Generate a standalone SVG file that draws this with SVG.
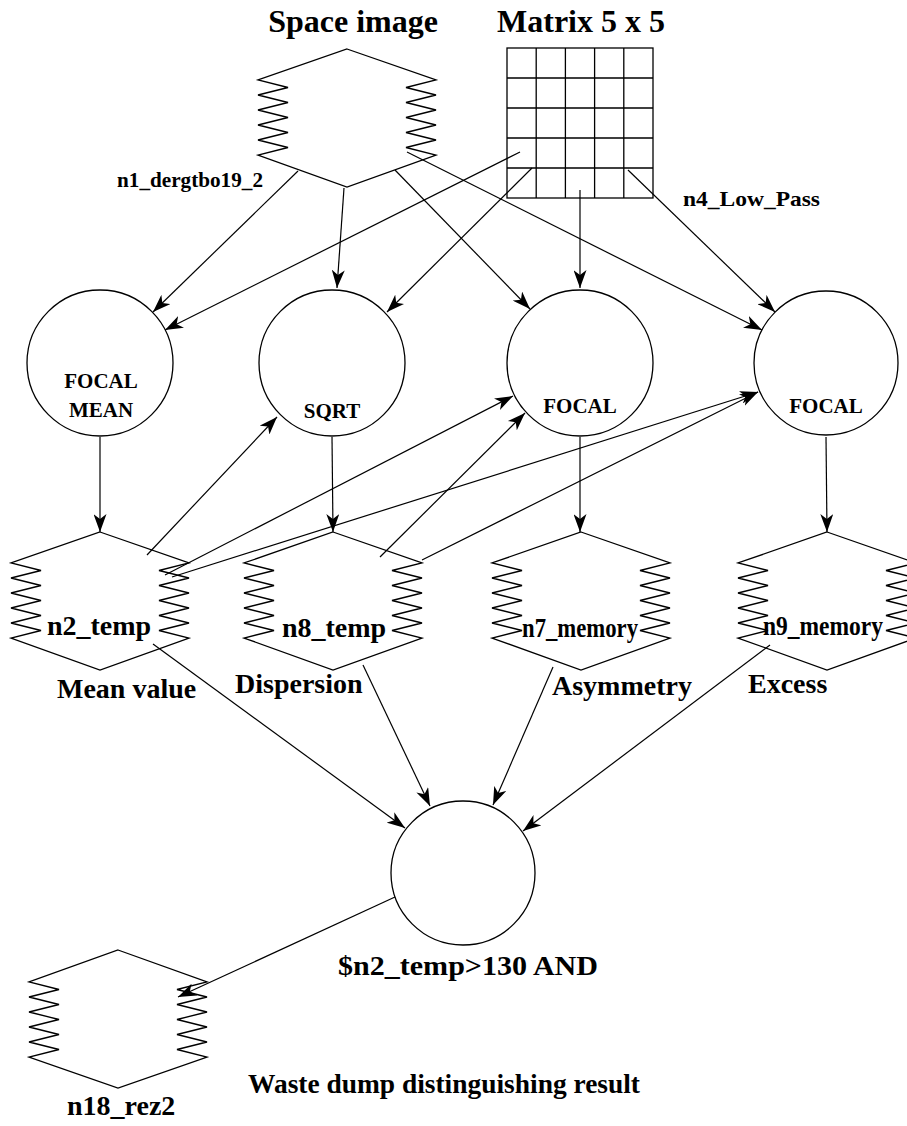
<svg xmlns="http://www.w3.org/2000/svg" width="907" height="1126" viewBox="0 0 907 1126">
<style>
.sh{fill:none;stroke:#000;stroke-width:1.3;stroke-linejoin:miter}
.ln{fill:none;stroke:#000;stroke-width:1.2;marker-end:url(#arr)}
.t{font-family:"Liberation Serif","Times New Roman",serif;font-weight:bold;fill:#000}
.big{font-size:32px}
.lb{font-size:28px}
.sm{font-size:21px}
</style>
<defs>
<marker id="arr" viewBox="0 0 18 13" refX="18" refY="6.5" markerWidth="18" markerHeight="13" markerUnits="userSpaceOnUse" orient="auto">
<path d="M0,0 L18,6.5 L0,13 L5,6.5 Z" fill="#000"/>
</marker>
</defs>
<rect width="907" height="1126" fill="#fff"/>
<g id="connectors">
<line class="ln" x1="298" y1="171" x2="153" y2="312"/>
<line class="ln" x1="520" y1="152" x2="165" y2="330"/>
<line class="ln" x1="344" y1="188" x2="337" y2="288"/>
<line class="ln" x1="532" y1="168" x2="387" y2="312"/>
<line class="ln" x1="395" y1="170" x2="530" y2="309"/>
<line class="ln" x1="580" y1="190" x2="580" y2="288"/>
<line class="ln" x1="407" y1="152" x2="762" y2="330"/>
<line class="ln" x1="628" y1="170" x2="775" y2="312"/>
<line class="ln" x1="100" y1="437" x2="100" y2="532"/>
<line class="ln" x1="332" y1="437" x2="333" y2="532"/>
<line class="ln" x1="580" y1="437" x2="580" y2="532"/>
<line class="ln" x1="826" y1="437" x2="827" y2="532"/>
<line class="ln" x1="147" y1="555" x2="277" y2="417"/>
<line class="ln" x1="165" y1="575" x2="513" y2="396"/>
<line class="ln" x1="172" y1="577" x2="758" y2="392"/>
<line class="ln" x1="380" y1="557" x2="525" y2="413"/>
<line class="ln" x1="422" y1="560" x2="758" y2="392"/>
<line class="ln" x1="153" y1="644" x2="405" y2="828"/>
<line class="ln" x1="363" y1="665" x2="430" y2="806"/>
<line class="ln" x1="553" y1="667" x2="493" y2="805"/>
<line class="ln" x1="770" y1="645" x2="523" y2="831"/>
<line class="ln" x1="395" y1="897" x2="178" y2="997"/>
</g>
<g id="space_image">
<path class="sh" d="M347,49 L436,80 l-30,7.5 30,7.5 -30,7.5 30,7.5 -30,7.5 30,7.5 -30,7.5 30,7.5 -30,7.5 30,7.5 L347,187 L258,155 l30,-7.5 -30,-7.5 30,-7.5 -30,-7.5 30,-7.5 -30,-7.5 30,-7.5 -30,-7.5 30,-7.5 -30,-7.5 Z"/>
<text class="t big" x="353" y="32" text-anchor="middle">Space image</text>
</g>
<g id="matrix">
<rect class="sh" x="507" y="48" width="146" height="150"/>
<path class="sh" d="M536.2,48V198M565.4,48V198M594.6,48V198M623.8,48V198M507,78H653M507,108H653M507,138H653M507,168H653"/>
<text class="t big" x="581" y="32" text-anchor="middle">Matrix 5 x 5</text>
</g>
<g id="edge_labels">
<text class="t sm" x="117" y="187" textLength="146" lengthAdjust="spacingAndGlyphs">n1_dergtbo19_2</text>
<text class="t sm" x="683" y="206" textLength="137" lengthAdjust="spacingAndGlyphs">n4_Low_Pass</text>
</g>
<g id="focal_mean">
<circle class="sh" cx="100" cy="363" r="73"/>
<text class="t sm" x="101" y="388" text-anchor="middle">FOCAL</text>
<text class="t sm" x="101" y="417" text-anchor="middle">MEAN</text>
</g>
<g id="sqrt">
<circle class="sh" cx="332" cy="363" r="73"/>
<text class="t sm" x="332" y="418" text-anchor="middle">SQRT</text>
</g>
<g id="focal3">
<circle class="sh" cx="580" cy="363" r="73"/>
<text class="t sm" x="580" y="413" text-anchor="middle">FOCAL</text>
</g>
<g id="focal4">
<circle class="sh" cx="826" cy="363" r="72"/>
<text class="t sm" x="826" y="413" text-anchor="middle">FOCAL</text>
</g>
<g id="n2_temp">
<path class="sh" d="M100,532 L189,563 l-30,7.5 30,7.5 -30,7.5 30,7.5 -30,7.5 30,7.5 -30,7.5 30,7.5 -30,7.5 30,7.5 L100,670 L11,638 l30,-7.5 -30,-7.5 30,-7.5 -30,-7.5 30,-7.5 -30,-7.5 30,-7.5 -30,-7.5 30,-7.5 -30,-7.5 Z"/>
<text class="t lb" x="99" y="635" text-anchor="middle">n2_temp</text>
<text class="t lb" x="57" y="698">Mean value</text>
</g>
<g id="n8_temp">
<path class="sh" d="M333,532 L422,563 l-30,7.5 30,7.5 -30,7.5 30,7.5 -30,7.5 30,7.5 -30,7.5 30,7.5 -30,7.5 30,7.5 L333,670 L244,638 l30,-7.5 -30,-7.5 30,-7.5 -30,-7.5 30,-7.5 -30,-7.5 30,-7.5 -30,-7.5 30,-7.5 -30,-7.5 Z"/>
<text class="t lb" x="334" y="637" text-anchor="middle">n8_temp</text>
<text class="t lb" x="235" y="693">Dispersion</text>
</g>
<g id="n7_memory">
<path class="sh" d="M581,532 L670,563 l-30,7.5 30,7.5 -30,7.5 30,7.5 -30,7.5 30,7.5 -30,7.5 30,7.5 -30,7.5 30,7.5 L581,670 L492,638 l30,-7.5 -30,-7.5 30,-7.5 -30,-7.5 30,-7.5 -30,-7.5 30,-7.5 -30,-7.5 30,-7.5 -30,-7.5 Z"/>
<text class="t lb" x="522" y="637" textLength="116" lengthAdjust="spacingAndGlyphs">n7_memory</text>
<text class="t lb" x="552" y="695">Asymmetry</text>
</g>
<g id="n9_memory">
<path class="sh" d="M827,532 L916,563 l-30,7.5 30,7.5 -30,7.5 30,7.5 -30,7.5 30,7.5 -30,7.5 30,7.5 -30,7.5 30,7.5 L827,670 L738,638 l30,-7.5 -30,-7.5 30,-7.5 -30,-7.5 30,-7.5 -30,-7.5 30,-7.5 -30,-7.5 30,-7.5 -30,-7.5 Z"/>
<text class="t lb" x="763" y="635" textLength="120" lengthAdjust="spacingAndGlyphs">n9_memory</text>
<text class="t lb" x="748" y="693">Excess</text>
</g>
<g id="and_node">
<circle class="sh" cx="463" cy="873" r="72"/>
<text class="t lb" x="338" y="975" textLength="260" lengthAdjust="spacingAndGlyphs">$n2_temp&gt;130 AND</text>
</g>
<g id="n18_rez2">
<path class="sh" d="M118,950 L207,982 l-30,7.5 30,7.5 -30,7.5 30,7.5 -30,7.5 30,7.5 -30,7.5 30,7.5 -30,7.5 30,7.5 L118,1088 L29,1057 l30,-7.5 -30,-7.5 30,-7.5 -30,-7.5 30,-7.5 -30,-7.5 30,-7.5 -30,-7.5 30,-7.5 -30,-7.5 Z"/>
<text class="t lb" x="67" y="1115">n18_rez2</text>
<text class="t lb" x="248" y="1093" textLength="392" lengthAdjust="spacingAndGlyphs">Waste dump distinguishing result</text>
</g>
</svg>
